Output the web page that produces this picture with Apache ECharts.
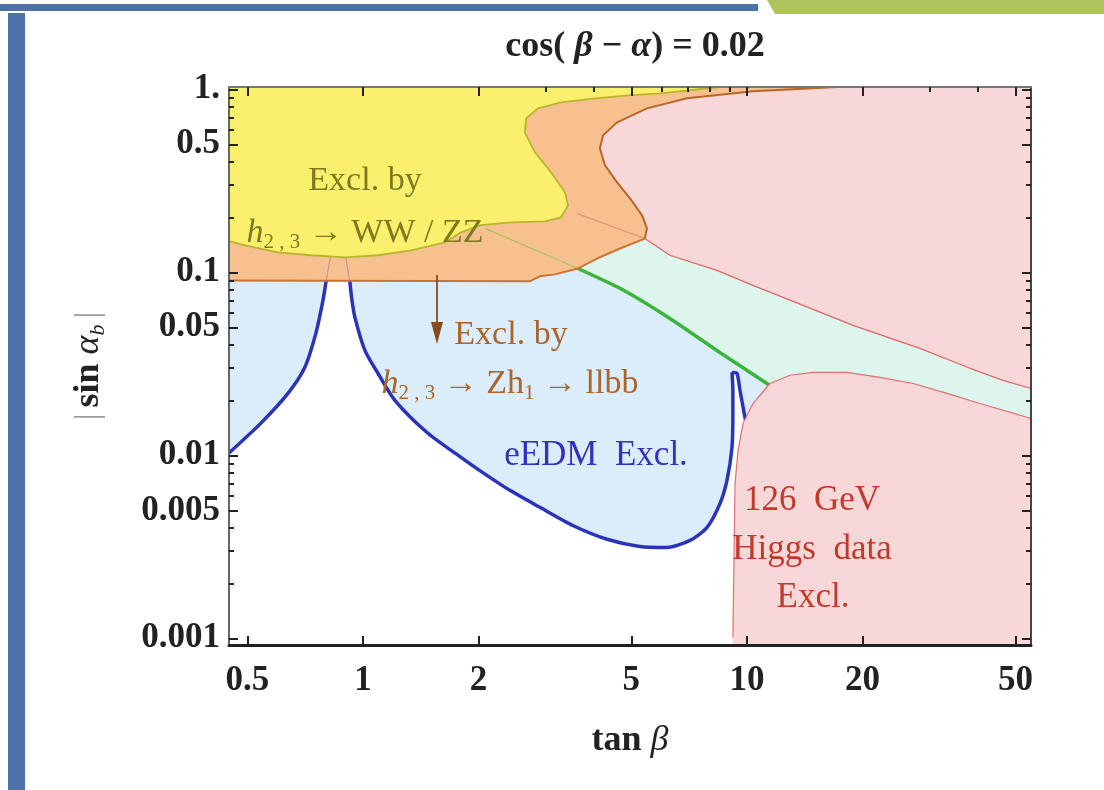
<!DOCTYPE html>
<html><head><meta charset="utf-8">
<script src="https://cdn.jsdelivr.net/npm/echarts@6/dist/echarts.min.js"></script>
<style>html,body{margin:0;padding:0;background:#fff}#c{width:1104px;height:790px}</style>
</head><body><div id="c"></div>
<script>
// ---------- axis domain and ticks (data units) ----------
const xRange = [0.448, 54.9];
const yRange = [0.00092, 1.03];
const xMajorTicks = [0.5, 1, 2, 5, 10, 20, 50];
const xMajorLabels = ['0.5', '1', '2', '5', '10', '20', '50'];
const xTopMinorTicks = [3, 4, 6, 7, 8, 9, 30, 40];
const yMajorTicks = [1, 0.5, 0.1, 0.05, 0.01, 0.005, 0.001];
const yMajorLabels = ['1.', '0.5', '0.1', '0.05', '0.01', '0.005', '0.001'];
const yMinorTicks = [0.9, 0.8, 0.7, 0.6, 0.4, 0.3, 0.2, 0.09, 0.08, 0.07, 0.06, 0.04, 0.03, 0.02,
  0.009, 0.008, 0.007, 0.006, 0.004, 0.003, 0.002];

// ---------- curves and regions: [tan beta, |sin alpha_b|] ----------
const eedmLeft = [[0.448,0.0103],[0.5425,0.0150],[0.638,0.0218],[0.706,0.0303],[0.754,0.0464],[0.787,0.0703],[0.801,0.0882],[0.806,0.095]];
const eedmHidden = [[0.83,0.124],[0.86,0.2],[0.9,0.124]];
const eedmRight = [[0.92,0.095],[0.925,0.0882],[0.935,0.072],[0.953,0.0568],[1.012,0.0375],[1.094,0.0281],[1.211,0.0200],
  [1.477,0.0132],[1.80,0.00975],[2.029,0.00818],[2.414,0.00644],[2.889,0.00520],[3.52,0.00414],[4.32,0.00348],[5.26,0.00318],
  [6.19,0.00314],[7.11,0.00343],[7.87,0.00404],[8.51,0.00547],[8.87,0.0073],[9.14,0.01106],[9.19,0.0170],[9.19,0.0227],
  [9.14,0.0284]];
const eedmCusp = [[9.14,0.0284],[9.42,0.0281],[9.59,0.0227],[9.77,0.0183],[10.0,0.0142],[10.3,0.01065]];
const eedmClose = [[12,0.008],[54.9,0.008],[54.9,0.3],[0.448,0.3]];
const mintRegion = [[3.63,0.105],[4.67,0.0818],[6.30,0.0560],[8.50,0.0365],[11.48,0.0241],[14,0.012],[54.9,0.012],[54.9,0.2],[5.42,0.2],[4.5,0.15]];
const greenLine = [[3.63,0.105],[4.67,0.0818],[6.30,0.0560],[8.50,0.0365],[11.48,0.0241]];
const orangeRegion = [[0.448,0.0904],[2.72,0.0893],[2.889,0.0951],[3.16,0.0975],[3.63,0.105],[4.07,0.119],[4.67,0.135],[5.42,0.153],
  [5.49,0.174],[5.33,0.205],[4.96,0.254],[4.59,0.310],[4.27,0.384],[4.14,0.476],[4.22,0.561],[4.59,0.660],[5.49,0.787],
  [6.98,0.893],[10.37,0.975],[17.2,1.03],[0.448,1.03]];
const orangeBottom = [[0.448,0.0904],[2.72,0.0893],[2.889,0.0951],[3.16,0.0975],[3.63,0.105],[4.07,0.119],[4.67,0.135],[5.42,0.153]];
const orangePinkEdge = [[5.42,0.153],[5.49,0.174],[5.33,0.205],[4.96,0.254],[4.59,0.310],[4.27,0.384],[4.14,0.476],[4.22,0.561],
  [4.59,0.660],[5.49,0.787],[6.98,0.893],[10.37,0.975],[17.2,1.03]];
const yellowRegion = [[0.448,0.148],[0.493,0.1405],[0.601,0.1286],[0.732,0.124],[0.898,0.1208],[1.094,0.124],[1.334,0.132],
  [1.636,0.146],[1.80,0.1655],[2.029,0.181],[2.43,0.1876],[2.98,0.190],[3.28,0.200],[3.42,0.232],[3.36,0.2735],[3.09,0.352],
  [2.805,0.453],[2.64,0.582],[2.66,0.694],[2.855,0.787],[3.28,0.849],[4.02,0.893],[4.90,0.927],[5.97,0.951],[8.5,1.03],[0.448,1.03]];
const pinkUpperRegion = [[17.2,1.03],[10.37,0.975],[6.98,0.893],[5.49,0.787],[4.59,0.660],[4.22,0.561],[4.14,0.476],[4.27,0.384],
  [4.59,0.310],[4.96,0.254],[5.33,0.205],[5.49,0.174],[5.42,0.153],[6.30,0.124],[8.35,0.1025],[10.37,0.0849],[14.0,0.0660],
  [18.9,0.0513],[28.2,0.0384],[38.1,0.0299],[46.4,0.0257],[54.9,0.0232],[54.9,1.03]];
const pinkUpperEdge = [[5.42,0.153],[6.30,0.124],[8.35,0.1025],[10.37,0.0849],[14.0,0.0660],[18.9,0.0513],[28.2,0.0384],
  [38.1,0.0299],[46.4,0.0257],[54.9,0.0232]];
const pinkLowerRegion = [[9.19,0.00092],[9.19,0.00101],[9.31,0.00703],[9.48,0.01065],[9.77,0.01496],[10.37,0.0192],[11.48,0.0247],
  [12.94,0.0274],[14.85,0.0284],[18.2,0.0284],[22.2,0.0267],[27.1,0.0247],[33.2,0.0218],[40.4,0.0192],[49.3,0.0170],
  [54.9,0.0159],[54.9,0.00092]];
const faintGreen = [[2.08,0.174],[3.63,0.105]];
const faintPink = [[3.6,0.21],[5.42,0.153]];
const faintCuspL = [[0.801,0.0882],[0.825,0.125]];
const faintCuspR = [[0.925,0.0882],[0.90,0.125]];

const eedmRegion = eedmLeft.slice(0, 7).concat(eedmHidden, eedmRight.slice(1), eedmCusp.slice(1), eedmClose);
const yellowEdge = yellowRegion.slice(0, yellowRegion.length - 1);
const pinkLowerEdge = pinkLowerRegion.slice(1, pinkLowerRegion.length - 1);

const lg = Math.log10;
const FONT = '"Liberation Serif", "DejaVu Serif", serif';

function poly(pts, fill, z) {
  return { type: 'custom', z, silent: true, clip: true, data: [0], animation: false,
    renderItem: (params, api) => ({ type: 'polygon',
      shape: { points: pts.map(p => api.coord([lg(p[0]), lg(p[1])])) },
      style: { fill: fill, stroke: null } }) };
}
function line(pts, color, width, z, opacity, smooth) {
  return { type: 'line', z, silent: true, showSymbol: false, symbol: 'none', clip: true, animation: false,
    smooth: smooth || false,
    data: pts.map(p => [lg(p[0]), lg(p[1])]),
    lineStyle: { color, width, opacity: opacity == null ? 1 : opacity } };
}
const fmt = (vals, labels) => v => {
  for (let i = 0; i < vals.length; i++) if (Math.abs(lg(vals[i]) - v) < 1e-6) return labels[i];
  return '';
};
const labelStyle = { fontFamily: FONT, fontSize: 35, fontWeight: 'bold', color: '#222' };
const xMin = lg(xRange[0]), xMax = lg(xRange[1]), yMin = lg(yRange[0]), yMax = lg(yRange[1]);

function xAx(pos, ticks, len, showLine, lineColor, lineWidth, labels) {
  return { type: 'value', position: pos, min: xMin, max: xMax, z: 20,
    axisLine: { show: showLine, onZero: false, lineStyle: { color: lineColor, width: lineWidth } },
    axisTick: { show: true, inside: true, length: len, customValues: ticks.map(lg), lineStyle: { color: '#222', width: 2 } },
    axisLabel: labels ? Object.assign({ show: true, customValues: xMajorTicks.map(lg), formatter: fmt(xMajorTicks, xMajorLabels), margin: 18 }, labelStyle) : { show: false },
    splitLine: { show: false } };
}
function yAx(pos, ticks, len, showLine, lineColor, lineWidth, labels) {
  return { type: 'value', position: pos, min: yMin, max: yMax, z: 20,
    axisLine: { show: showLine, onZero: false, lineStyle: { color: lineColor, width: lineWidth } },
    axisTick: { show: true, inside: true, length: len, customValues: ticks.map(lg), lineStyle: { color: '#222', width: 2 } },
    axisLabel: labels ? Object.assign({ show: true, customValues: yMajorTicks.map(lg), formatter: fmt(yMajorTicks, yMajorLabels), margin: 9 }, labelStyle) : { show: false },
    splitLine: { show: false } };
}

const xAxes = [
  xAx('bottom', xMajorTicks, 9, true, '#222', 3, true),
  xAx('top', xMajorTicks, 9, true, '#777', 2, false),
  xAx('top', xTopMinorTicks, 5, false, '#777', 2, false)
];
xAxes[0].name = '{t|tan }{i|β}';
xAxes[0].nameLocation = 'middle';
xAxes[0].nameGap = 78;
xAxes[0].nameTextStyle = { rich: {
  t: { fontFamily: FONT, fontSize: 36, fontWeight: 'bold', color: '#222' },
  i: { fontFamily: FONT, fontSize: 36, fontStyle: 'italic', color: '#222' } } };
const yAxes = [
  yAx('left', yMajorTicks, 9, true, '#666', 2, true),
  yAx('left', yMinorTicks, 5, false, '#666', 2, false),
  yAx('right', yMajorTicks, 9, true, '#444', 2, false),
  yAx('right', yMinorTicks, 5, false, '#444', 2, false)
];
yAxes[0].name = '{b||}{t|sin }{i|α}{s|b}{b||}';
yAxes[0].nameLocation = 'middle';
yAxes[0].nameGap = 120;
yAxes[0].nameTextStyle = { rich: {
  b: { fontFamily: FONT, fontSize: 34, color: '#999', padding: [0, 6, 0, 6] },
  t: { fontFamily: FONT, fontSize: 36, fontWeight: 'bold', color: '#222' },
  i: { fontFamily: FONT, fontSize: 36, fontStyle: 'italic', color: '#222' },
  s: { fontFamily: FONT, fontSize: 22, fontStyle: 'italic', color: '#222', verticalAlign: 'bottom', lineHeight: 40 } } };

const series = [
  poly(eedmRegion, '#dbecfa', 1),
  line(eedmLeft, '#2b33bb', 3.5, 2, 1, 0.25),
  line(eedmRight, '#2b33bb', 3.5, 2, 1, 0.25),
  line(eedmCusp, '#2b33bb', 3.5, 2, 1, 0.2),
  poly(mintRegion, '#ddf5ec', 3),
  line(greenLine, '#3cb43c', 3.5, 4, 1, 0.2),
  poly(orangeRegion, '#f6c18f', 5),
  line(faintGreen, '#8fbf50', 1.2, 6, 0.7),
  line(faintPink, '#e07070', 1.2, 6, 0.6),
  line(faintCuspL, '#9c6fa8', 1.2, 6, 0.5),
  line(faintCuspR, '#9c6fa8', 1.2, 6, 0.5),
  poly(yellowRegion, '#faf06c', 7),
  line(yellowEdge, '#b9b52e', 1.8, 8),
  poly(pinkUpperRegion, '#f7d7d7', 9),
  poly(pinkLowerRegion, '#f7d7d7', 10),
  line(orangeBottom, '#cc7332', 2, 11),
  line(orangePinkEdge, '#b8662a', 2, 11),
  line(pinkUpperEdge, '#e06666', 1.2, 11),
  line(pinkLowerEdge, '#e07070', 1.2, 11)
];

const annFont = FONT;
function ann(x, y, text, color, size, rich) {
  return { type: 'text', x, y, z: 50, style: { text, fill: color, font: size + 'px ' + annFont,
    align: 'center', verticalAlign: 'middle', textAlign: 'center', textVerticalAlign: 'middle', rich } };
}
const olive = '#7e7a1f', brown = '#a9662c', blue = '#3232bf', red = '#c5382c';
function hRich(color) {
  return {
    h: { fontFamily: FONT, fontSize: 34, fontStyle: 'italic', fill: color, color: color, lineHeight: 40 },
    s: { fontFamily: FONT, fontSize: 21, fill: color, color: color, verticalAlign: 'bottom', lineHeight: 26 },
    t: { fontFamily: FONT, fontSize: 34, fill: color, color: color, lineHeight: 40 }
  };
}

const option = {
  animation: false,
  backgroundColor: '#fff',
  title: { text: '{t|cos( }{i|β}{t| − }{i|α}{t|) = 0.02}', left: 630, top: 24, textAlign: 'center',
    textStyle: { rich: {
      t: { fontFamily: FONT, fontSize: 36, fontWeight: 'bold', color: '#222' },
      i: { fontFamily: FONT, fontSize: 36, fontStyle: 'italic', color: '#222' } } } },
  grid: { left: 229, right: 73, top: 87, bottom: 145, containLabel: false },
  xAxis: xAxes,
  yAxis: yAxes,
  series: series,
  graphic: [
    { type: 'rect', shape: { x: 0, y: 4, width: 758, height: 7 }, style: { fill: '#4c72a8' }, z: 0 },
    { type: 'polygon', shape: { points: [[767, 0], [1104, 0], [1104, 14], [775, 14]] }, style: { fill: '#aec35c' }, z: 0 },
    { type: 'rect', shape: { x: 8, y: 13, width: 17, height: 777 }, style: { fill: '#4c72a8' }, z: 0 },
    ann(365, 181, 'Excl. by', olive, 34),
    ann(365, 233, '{h|h}{s|2 , 3}{t| → WW / ZZ}', olive, 34, hRich(olive)),
    { type: 'line', z: 50, shape: { x1: 437, y1: 275, x2: 437, y2: 326 }, style: { stroke: '#8b4a1e', lineWidth: 1.8 } },
    { type: 'polygon', z: 50, shape: { points: [[431, 322], [443, 322], [437, 344]] }, style: { fill: '#8b4a1e' } },
    ann(511, 335, 'Excl. by', brown, 34),
    ann(510, 384, '{h|h}{s|2 , 3}{t| → Zh}{s|1}{t| → llbb}', brown, 34, hRich(brown)),
    ann(596, 456, 'eEDM  Excl.', blue, 35),
    ann(812, 501, '126  GeV', red, 35),
    ann(812, 550, 'Higgs  data', red, 35),
    ann(813, 598, 'Excl.', red, 35)
  ]
};
const chart = echarts.init(document.getElementById('c'), null, { renderer: 'canvas' });
chart.setOption(option);
</script>
</body></html>
